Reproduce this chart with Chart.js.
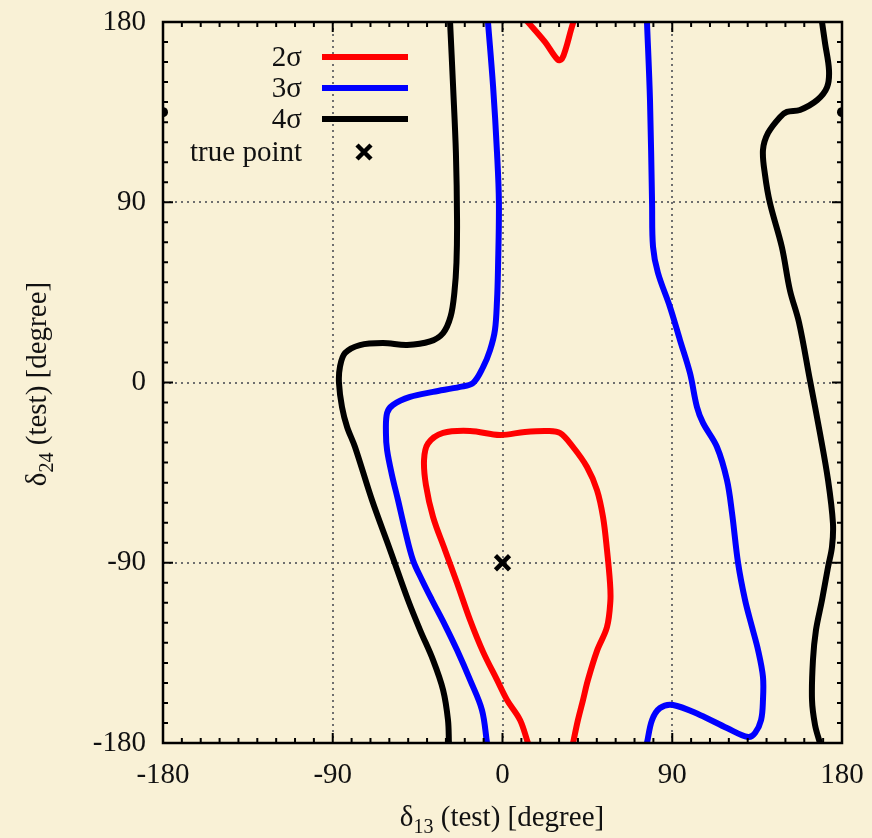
<!DOCTYPE html>
<html>
<head>
<meta charset="utf-8">
<script src="https://cdn.jsdelivr.net/npm/chart.js@4/dist/chart.umd.min.js"></script>
<style>
  html, body { margin: 0; padding: 0; background: #f9f1d6; }
  #wrap { width: 872px; height: 838px; }
</style>
</head>
<body>
<div id="wrap"><canvas id="grafico" width="872" height="838"></canvas></div>
<script>
// contour points: [delta13, delta24] in degrees
const sigma2Main = [[13.5,-180],[9.3,-168.5],[2.4,-158.5],[-2.9,-148.5],[-10.3,-134.5],[-17.2,-118.6],[-24.1,-100.1],[-30.5,-83.6],[-36.8,-67.2],[-40.6,-51.2],[-41.6,-38.7],[-39.5,-30.5],[-31.5,-25.2],[-17.2,-24.2],[-1.3,-26.2],[11.9,-24.7],[23.6,-24.2],[30.5,-25.2],[37.4,-32.2],[44.8,-42.2],[50.1,-53.7],[53.3,-67.2],[55.4,-83.6],[57.0,-100.1],[57.2,-109],[55.4,-122.1],[50.1,-134],[45.3,-148.5],[42.7,-158.5],[40.0,-168.5],[37.4,-180]];
const sigma2Top = [[12.5,181],[22.5,170.1],[29.4,161.1],[31.5,161.6],[33.7,167.1],[36.3,176.0],[37.9,181]];
const sigma3Left = [[-7.7,180],[-5.0,147.9],[-2.9,114.6],[-1.9,89.7],[-2.4,56.2],[-2.9,41.2],[-4.0,26.2],[-6.6,16.2],[-10.3,7.7],[-15.6,-0.2],[-22.5,-2.2],[-36.8,-4.7],[-49.0,-7.2],[-58.1,-11.2],[-61.2,-15.2],[-61.8,-25.2],[-61.2,-33.7],[-58.6,-46.2],[-55.4,-58.7],[-51.7,-73.7],[-47.5,-88.6],[-42.7,-98.6],[-37.4,-108.6],[-30.5,-121.1],[-24.1,-133.6],[-17.2,-148.5],[-10.9,-163.5],[-8.2,-180]];
const sigma3Right = [[76.6,180],[78.2,141.0],[79.3,89.7],[79.8,67.8],[82.4,54.8],[88.8,37.7],[94.1,21.2],[99.4,4.7],[103.1,-12.2],[106.3,-20.2],[113.7,-32.2],[119.0,-48.7],[121.7,-65.2],[124.9,-90.1],[128.6,-108.6],[132.3,-122.1],[135.5,-133.6],[138.1,-147.0],[138.1,-158.5],[137.1,-168.5],[133.9,-175.0],[130.2,-177.0],[119.0,-172.5],[104.7,-166.0],[90.4,-161.0],[83.5,-162.5],[79.3,-168.5],[76.6,-180]];
const sigma4Left = [[-27.8,180],[-26.2,147.9],[-24.7,114.6],[-24.1,81.1],[-24.4,60],[-25.5,45],[-27.5,33],[-31.5,24.7],[-38.4,20.5],[-50.6,18.7],[-63.4,19.7],[-75.6,18.7],[-83.5,14.7],[-86.2,7.7],[-86.7,-0.2],[-85.1,-12.2],[-82.4,-22.2],[-78.2,-32.2],[-69.2,-58.7],[-59.6,-83.6],[-50.1,-108.6],[-43.7,-123.6],[-36.8,-138.6],[-31.5,-153.5],[-28.9,-168.5],[-28.4,-180]];
const sigma4Right = [[169.4,180],[171.0,169.5],[173.1,156.0],[172.1,147.5],[166.8,141.0],[157.7,136.1],[150.8,135.1],[147.1,132.5],[140.8,124.6],[138.1,116.1],[139.2,103.6],[141.8,89.6],[148.1,67.7],[152.4,46],[157.2,30],[163.0,1.2],[168.3,-25.2],[172.6,-48.7],[175.2,-70.2],[174.7,-82.1],[172.6,-92.1],[169.4,-108.6],[166.2,-123.6],[164.6,-138.6],[164.1,-158.5],[165.7,-171.0],[168.3,-180]];
const sigma4Edge = [[-180,135],[180,135]];
const truePoint = [[0,-90]];

const xTicks = [-180, -90, 0, 90, 180];
const yTicks = [-180, -90, 0, 90, 180];
const legendItems = [
  { text: "2σ", color: "#ff0000" },
  { text: "3σ", color: "#0000ff" },
  { text: "4σ", color: "#000000" },
  { text: "true point", color: "#000000", cross: true }
];

const FONT = "'Liberation Serif', 'DejaVu Serif', serif";

function pts(arr) { return arr.map(p => ({ x: p[0], y: p[1] })); }

function curva(label, arr, cor) {
  return {
    label: label, data: pts(arr), showLine: true, borderColor: cor,
    borderWidth: 6, pointRadius: 0, tension: 0.35, fill: false,
    borderCapStyle: "round", borderJoinStyle: "round", clip: 0
  };
}

// frame, dotted grid and inward ticks like gnuplot
const molduraPlugin = {
  id: "moldura",
  beforeDatasetsDraw(chart) {
    const ctx = chart.ctx;
    const a = chart.chartArea;
    const xs = chart.scales.x, ys = chart.scales.y;
    ctx.save();
    ctx.strokeStyle = "#6f6f6f";
    ctx.lineWidth = 2;
    ctx.setLineDash([2, 4]);
    [-90, 0, 90].forEach(v => {
      const px = Math.round(xs.getPixelForValue(v));
      ctx.beginPath(); ctx.moveTo(px, a.top); ctx.lineTo(px, a.bottom); ctx.stroke();
      const py = Math.round(ys.getPixelForValue(v));
      ctx.beginPath(); ctx.moveTo(a.left, py); ctx.lineTo(a.right, py); ctx.stroke();
    });
    ctx.restore();
  },
  afterDatasetsDraw(chart) {
    const ctx = chart.ctx;
    const a = chart.chartArea;
    const xs = chart.scales.x, ys = chart.scales.y;
    ctx.save();
    ctx.strokeStyle = "#000";
    ctx.lineWidth = 2;
    for (let v = -180; v <= 180; v += 10) {
      const len = v % 90 === 0 ? 10 : 5;
      const px = xs.getPixelForValue(v);
      ctx.beginPath();
      ctx.moveTo(px, a.bottom); ctx.lineTo(px, a.bottom - len);
      ctx.moveTo(px, a.top); ctx.lineTo(px, a.top + len);
      ctx.stroke();
      const py = ys.getPixelForValue(v);
      ctx.beginPath();
      ctx.moveTo(a.left, py); ctx.lineTo(a.left + len, py);
      ctx.moveTo(a.right, py); ctx.lineTo(a.right - len, py);
      ctx.stroke();
    }
    ctx.lineWidth = 2.5;
    ctx.strokeRect(a.left, a.top, a.right - a.left, a.bottom - a.top);
    ctx.restore();
  },
  afterDraw(chart) {
    const ctx = chart.ctx;
    ctx.save();
    ctx.fillStyle = "#111";
    ctx.textBaseline = "alphabetic";

    // axis title with subscript, centred on cx
    function titulo(sub, cx, base) {
      const big = "29px " + FONT, small = "20px " + FONT;
      ctx.font = big; const w1 = ctx.measureText("δ").width;
      const w3 = ctx.measureText(" (test) [degree]").width;
      ctx.font = small; const w2 = ctx.measureText(sub).width;
      let x = cx - (w1 + w2 + w3) / 2;
      ctx.textAlign = "left";
      ctx.font = big; ctx.fillText("δ", x, base); x += w1;
      ctx.font = small; ctx.fillText(sub, x, base + 7); x += w2;
      ctx.font = big; ctx.fillText(" (test) [degree]", x, base);
    }
    titulo("13", 502, 826);
    ctx.save();
    ctx.translate(46, 384);
    ctx.rotate(-Math.PI / 2);
    titulo("24", 0, 0);
    ctx.restore();

    // legend
    const ly = [57, 88, 119, 152];
    ctx.font = "29px " + FONT;
    ctx.textAlign = "right";
    ctx.textBaseline = "middle";
    legendItems.forEach((it, i) => {
      ctx.fillStyle = "#111";
      ctx.fillText(it.text, 302, ly[i] + 1);
      if (it.cross) {
        ctx.strokeStyle = it.color; ctx.lineWidth = 4.5; ctx.lineCap = "butt";
        ctx.beginPath();
        ctx.moveTo(357, ly[i] - 7); ctx.lineTo(371, ly[i] + 7);
        ctx.moveTo(371, ly[i] - 7); ctx.lineTo(357, ly[i] + 7);
        ctx.stroke();
      } else {
        ctx.strokeStyle = it.color; ctx.lineWidth = 6; ctx.lineCap = "butt";
        ctx.beginPath(); ctx.moveTo(322, ly[i]); ctx.lineTo(408, ly[i]); ctx.stroke();
      }
    });
    ctx.restore();
  }
};

const grafico = new Chart(document.getElementById("grafico"), {
  type: "scatter",
  data: {
    datasets: [
      curva("2σ", sigma2Main, "#ff0000"),
      curva("2σ top", sigma2Top, "#ff0000"),
      curva("3σ", sigma3Left, "#0000ff"),
      curva("3σ right", sigma3Right, "#0000ff"),
      curva("4σ", sigma4Left, "#000000"),
      curva("4σ right", sigma4Right, "#000000"),
      { label: "4σ edge", data: pts(sigma4Edge), pointRadius: 5, pointBackgroundColor: "#000",
        pointBorderWidth: 0, showLine: false, clip: 0 },
      { label: "true point", data: pts(truePoint), pointStyle: "crossRot", pointRadius: 10,
        borderColor: "#000", pointBorderColor: "#000", pointBorderWidth: 4.5, showLine: false }
    ]
  },
  options: {
    responsive: false,
    animation: false,
    events: [],
    layout: { padding: { top: 22, right: 30, left: 0, bottom: 0 } },
    elements: { line: { capBezierPoints: false } },
    plugins: { legend: { display: false }, tooltip: { enabled: false } },
    scales: {
      x: {
        type: "linear", min: -180, max: 180,
        afterFit: s => { s.height = 95; s.paddingLeft = 0; s.paddingRight = 0; },
        afterBuildTicks: s => { s.ticks = xTicks.map(v => ({ value: v })); },
        grid: { display: false, drawTicks: false },
        border: { display: false },
        ticks: { color: "#111", padding: 15, maxRotation: 0, font: { family: FONT, size: 29 } }
      },
      y: {
        type: "linear", min: -180, max: 180,
        afterFit: s => { s.width = 163; s.paddingTop = 0; s.paddingBottom = 0; },
        afterBuildTicks: s => { s.ticks = yTicks.map(v => ({ value: v })); },
        grid: { display: false, drawTicks: false },
        border: { display: false },
        ticks: { color: "#111", padding: 17, font: { family: FONT, size: 29 } }
      }
    }
  },
  plugins: [molduraPlugin]
});
</script>
</body>
</html>
